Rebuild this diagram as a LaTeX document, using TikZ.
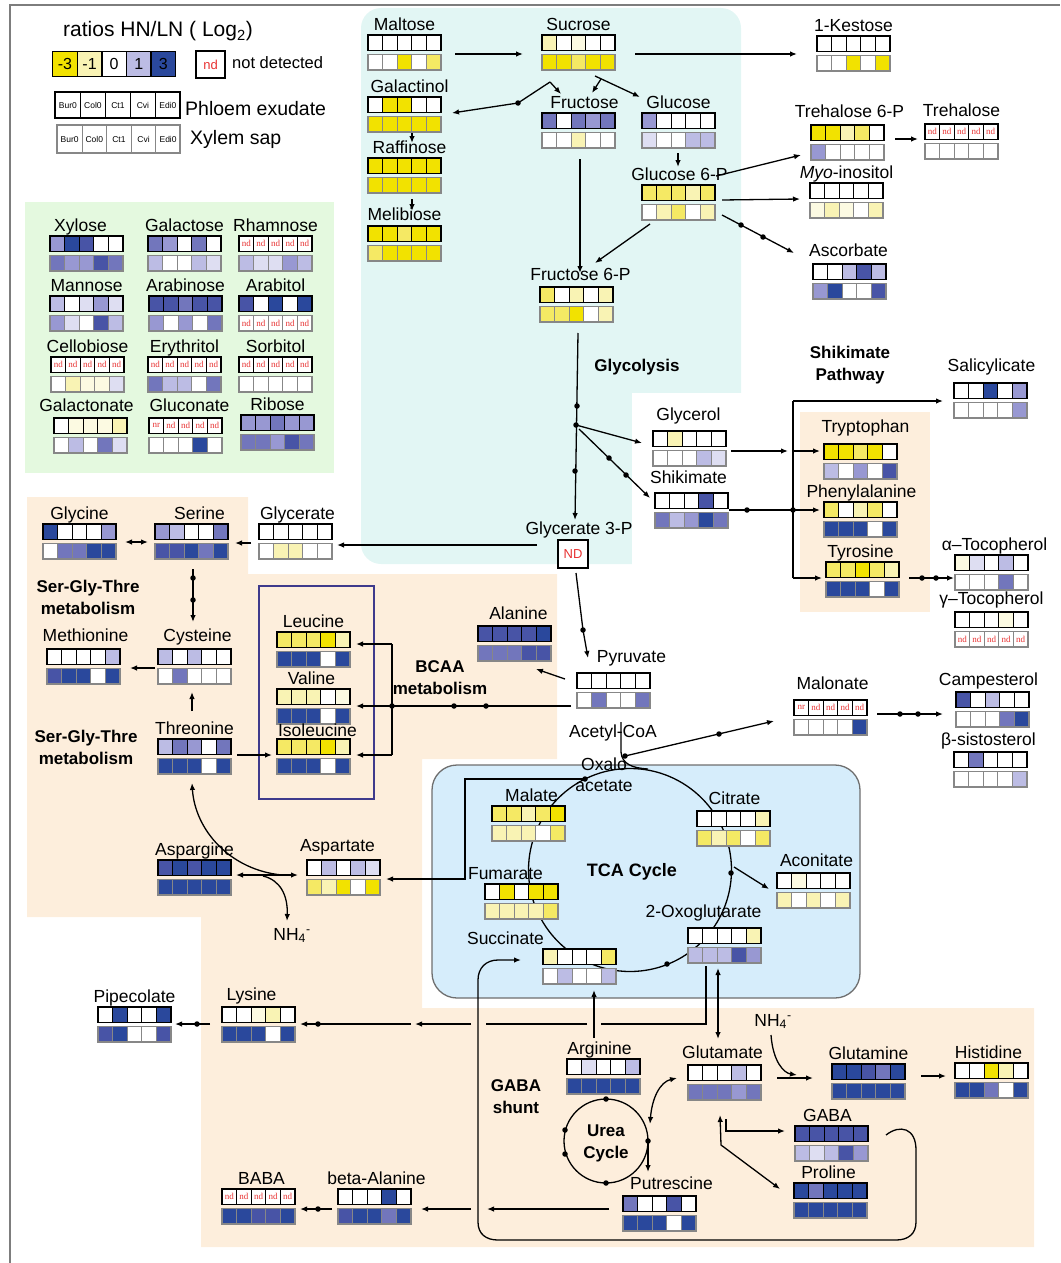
\documentclass[tikz,border=0pt]{standalone}
\usepackage{fontspec}
\setmainfont{Liberation Sans}
\newfontfamily\ndfont{Liberation Serif}
\usetikzlibrary{arrows.meta}
\definecolor{cY}{RGB}{242,226,0}
\definecolor{cy}{RGB}{245,233,100}
\definecolor{cl}{RGB}{249,243,180}
\definecolor{cp}{RGB}{252,250,226}
\definecolor{cW}{RGB}{255,255,255}
\definecolor{cN}{RGB}{255,255,255}
\definecolor{cR}{RGB}{255,255,255}
\definecolor{cb}{RGB}{222,222,242}
\definecolor{cc}{RGB}{188,188,228}
\definecolor{cm}{RGB}{152,152,210}
\definecolor{cM}{RGB}{114,118,188}
\definecolor{cD}{RGB}{72,84,166}
\definecolor{cK}{RGB}{42,72,156}
\definecolor{ndred}{RGB}{232,50,50}
\definecolor{bgcyan}{RGB}{226,246,244}
\definecolor{bggreen}{RGB}{228,249,223}
\definecolor{bgpeach}{RGB}{253,238,220}
\definecolor{bgtca}{RGB}{214,237,251}
\definecolor{tcaedge}{RGB}{110,110,110}
\definecolor{bcaaedge}{RGB}{62,58,140}
\definecolor{rowgray}{RGB}{135,135,135}
\definecolor{framegray}{RGB}{125,125,125}
\newcommand{\txtN}{{\ndfont\fontsize{9}{9}\selectfont\color{ndred}nd}}
\newcommand{\txtR}{{\ndfont\fontsize{9}{9}\selectfont\color{ndred}nr}}
\tikzset{
  cellt/.style={draw=black, line width=1.2pt, fill=c#1, minimum width=14.6pt, minimum height=15.5pt, inner sep=0pt, outer sep=0pt, anchor=north west},
  cellb/.style={cellt=#1, draw=rowgray},
  lbl/.style={font=\fontsize{17.5}{20}\selectfont, anchor=base, inner sep=0pt},
  title/.style={font=\bfseries\fontsize{17}{22}\selectfont, align=center, inner sep=0pt},
  conn/.style={line width=1.3pt, -{Latex[length=7pt,width=5.5pt]}},
  conn2/.style={line width=1.3pt, {Latex[length=7pt,width=5.5pt]}-{Latex[length=7pt,width=5.5pt]}},
  plain/.style={line width=1.3pt},
  dot/.style={circle, fill=black, inner sep=0pt, minimum size=5.5pt},
  legc/.style={draw=black, line width=1.3pt, fill=c#1, minimum width=24.6pt, minimum height=25pt, inner sep=0pt, anchor=north west, font=\fontsize{16}{16}\selectfont},
  legp/.style={draw=black, line width=0.8pt, minimum width=25pt, minimum height=26pt, inner sep=0pt, anchor=north west, font=\fontsize{8.5}{9}\selectfont},
  legx/.style={legp, draw=rowgray, minimum width=24.6pt, minimum height=28pt},
  legtext/.style={font=\fontsize{19.5}{22}\selectfont, anchor=base west, inner sep=0pt}
}
\NewDocumentCommand{\met}{O{0} O{0} m m m m m m}{%
  \node[lbl] (#3) at ({#4+36.5+(#1)},{#5-4.5+(#2)}) {#6};
  \foreach \c [count=\i from 0] in {#7}
    \node[cellt=\c] (#3-t\i) at ({#4+\i*14.6},{#5}) {\csname txt\c\endcsname};
  \foreach \c [count=\i from 0] in {#8}
    \node[cellb=\c] (#3-b\i) at ({#4+\i*14.6},{#5+19.5}) {\csname txt\c\endcsname};
}
\begin{document}
\begin{tikzpicture}[x=1pt,y=-1pt]
\useasboundingbox (0,0) rectangle (1060,1263);
% ---------- backgrounds
\fill[bgcyan, rounded corners=20pt] (361,8) rectangle (741,564);
\fill[white] (632,393) rectangle (745,570);
\fill[bggreen] (25,202) rectangle (334,473);
\fill[bgpeach] (27,497) -- (248,497) -- (248,574) -- (557,574) -- (557,759) -- (422,759) -- (422,1008) -- (1034,1008) -- (1034,1247) -- (201,1247) -- (201,917) -- (27,917) -- cycle;
\fill[bgpeach] (800,412) rectangle (930,612);
\draw[fill=bgtca, draw=tcaedge, line width=1.3pt, rounded corners=25pt] (432,765) rectangle (860,998);
\draw[draw=bcaaedge, line width=1.2pt] (259,586) rectangle (374,799);
\draw[framegray, line width=1.5pt] (10,1263) -- (10,5) -- (1060,5);
% ---------- legend
\node[font=\fontsize{21}{24}\selectfont, anchor=base west, inner sep=0pt] (legtitle) at (63,37) {ratios HN/LN ( Log\textsubscript{2})};
\foreach \c/\t [count=\i from 0] in {Y/-3,l/-1,W/0,c/1,K/3}
  \node[legc=\c] (leg\i) at ({52+\i*24.6},51) {\t};
\node[draw, line width=1.3pt, minimum width=29pt, minimum height=27pt, inner sep=0pt, text=ndred, font=\fontsize{13}{13}\selectfont] (ndbox) at (210.5,64.5) {nd};
\node[font=\fontsize{16.5}{18}\selectfont, anchor=base west, inner sep=0pt] (ndtext) at (232,69) {not detected};
\foreach \t [count=\i from 0] in {Bur0,Col0,Ct1,Cvi,Edi0}
  \node[legp] (lp\i) at ({55+\i*25},92) {\t};
\draw[line width=1.6pt] (55,92) rectangle (180,118);
\node[legtext] (phloem) at (185,115) {Phloem exudate};
\foreach \t [count=\i from 0] in {Bur0,Col0,Ct1,Cvi,Edi0}
  \node[legx] (lx\i) at ({57+\i*24.6},125) {\t};
\draw[rowgray, line width=1.6pt] (57,125) rectangle (180,153);
\node[legtext] (xylem) at (190,144) {Xylem sap};
% ---------- connectors: sugars
\draw[conn] (455,54) -- (523,54);
\draw[conn] (635,54) -- (797,54);
\draw[conn] (550,82) -- (561,94);
\draw[conn] (550,82) -- (518,103) -- (452,113);
\node[dot] (d1) at (518,103) {};
\draw[conn] (595,76) -- (640,97);
\draw[conn] (601,79) -- (592,93);
\draw[conn] (412,131) -- (412,143);
\draw[conn] (412,199) -- (412,211);
\draw[conn] (580,159) -- (580,273);
\draw[conn] (650,224) -- (595,263);
\draw[conn] (678,153) -- (678,167);
\draw[conn] (716,176) -- (801,155);
\draw[conn] (722,200) -- (800,199);
\draw[conn] (722,215) -- (794,253);
\node[dot] (d2) at (741,225) {};
\node[dot] (d3) at (763,237) {};
\draw[conn] (895,139) -- (918,139);
% glycolysis
\draw[conn] (578,333) -- (575,520);
\node[dot] (d4) at (577,406) {};
\node[dot] (d5) at (576,425) {};
\node[dot] (d6) at (575,471) {};
\draw[conn] (576,425) -- (642,443);
\draw[conn] (579,429) -- (650,498);
\node[dot] (d7) at (609,458) {};
\node[dot] (d8) at (626,475) {};
% shikimate
\draw[conn] (731,451) -- (788,451);
\draw[plain] (793,578) -- (793,401);
\draw[conn] (793,401) -- (943,401);
\draw[conn] (793,451) -- (820,451);
\draw[conn] (729,510) -- (820,510);
\node[dot] (d9) at (747,510) {};
\node[dot] (d10) at (793,510) {};
\draw[conn] (793,578) -- (822,578);
\draw[conn] (909,578) -- (954,578);
\node[dot] (d11) at (922,578) {};
\node[dot] (d12) at (936,578) {};
% Ser-Gly-Thre
\draw[conn] (537,545) -- (337,545);
\draw[conn] (251,543) -- (235,543);
\draw[conn2] (125,542) -- (148,542);
\draw[conn] (193,569) -- (193,622);
\node[dot] (d13) at (193,578) {};
\node[dot] (d14) at (193,600) {};
\draw[conn] (155,668) -- (130,668);
\draw[conn] (192,711) -- (192,692);
\draw[conn] (237,755) -- (272,755);
\draw[conn] (282,875) .. controls (230,870) and (195,830) .. (192,783);
\draw[conn2] (236,875) -- (298,875);
\draw[conn] (263,876) .. controls (280,880) and (288,895) .. (287,921);
% pyruvate / BCAA
\draw[plain] (576,573) -- (583,630);
\draw[conn] (583,630) -- (588,658);
\node[dot] (d15) at (583,630) {};
\draw[conn] (565,679) -- (536,669);
\draw[plain] (571,706) -- (392,706);
\node[dot] (d16) at (486,706) {};
\node[dot] (d17) at (454,706) {};
\node[dot] (d18) at (392,706) {};
\draw[plain] (392,644) -- (392,755);
\draw[conn] (392,644) -- (356,644);
\draw[conn] (392,706) -- (356,706);
\draw[conn] (392,755) -- (356,755);
% acetyl-CoA, malonate
\draw[plain] (621,722) -- (621,752) .. controls (622,764) and (632,768) .. (648,769);
\draw[conn] (625,756) -- (774,721);
\node[dot] (d19) at (625,756) {};
\node[dot] (d20) at (719,734) {};
\draw[conn] (877,714) -- (943,714);
\node[dot] (d21) at (900,714) {};
\node[dot] (d22) at (918,714) {};
% TCA cycle
\draw[plain] (630,870) circle [radius=101.5pt];
\node[dot] (d23) at (585,779) {};
\node[dot] (d24) at (731,873) {};
\node[dot] (d25) at (667,964) {};
\draw[conn] (585,779) -- (465,779) -- (465,879) -- (386,879);
\draw[conn] (734,867) -- (769,889);
% lower area
\draw[plain] (706,966) -- (706,1024) -- (601,1024);
\draw[plain] (587,1024) -- (486,1024);
\draw[conn] (471,1024) -- (415,1024);
\draw[conn] (411,1024) -- (300,1024);
\node[dot] (d26) at (318,1024) {};
\draw[conn] (210,1024) -- (175,1024);
\node[dot] (d27) at (197,1024) {};
\draw[conn2] (718,968) -- (718,1039);
\draw[conn] (594,1038) -- (594,990);
\draw[conn] (609,1209) -- (487,1209);
\draw[conn] (471,1209) -- (421,1209);
\draw[conn] (332,1209) -- (300,1209);
\node[dot] (d28) at (318,1209) {};
\draw[conn] (886,1135) .. controls (900,1124) and (916,1128) .. (916,1150) -- (916,1222) .. controls (916,1234) and (908,1240) .. (896,1240) -- (498,1240) .. controls (486,1240) and (478,1234) .. (478,1222) -- (478,980) .. controls (478,968) and (486,960) .. (498,960) -- (521,960);
% urea cycle
\draw[plain] (606,1141) circle [radius=42pt];
\node[dot] (d29) at (606,1099) {};
\node[dot] (d30) at (565,1130) {};
\node[dot] (d31) at (565,1154) {};
\node[dot] (d32) at (648,1141) {};
\node[dot] (d33) at (606,1183) {};
\draw[conn] (648,1141) -- (648,1172);
\draw[conn2] (650,1124) .. controls (652,1098) and (660,1082) .. (677,1078);
\draw[conn] (726,1119) -- (726,1131) -- (785,1131);
\draw[conn2] (720,1115) -- (721,1145) -- (780,1189);
\draw[conn] (777,1078) -- (813,1078);
\draw[conn] (771,1035) .. controls (773,1062) and (784,1073) .. (797,1075);
\draw[conn] (921,1076) -- (946,1076);
% ---------- metabolites
\met{maltose}{368}{35}{Maltose}{W,W,W,W,W}{W,W,Y,W,y}
\met{sucrose}{542}{35}{Sucrose}{l,W,p,W,W}{Y,Y,y,Y,Y}
\met{kestose}{817}{36}{1-Kestose}{W,W,W,W,W}{W,W,Y,W,Y}
\met[5]{galactinol}{368}{97}{Galactinol}{W,Y,Y,W,W}{Y,Y,Y,Y,Y}
\met[5]{raffinose}{368}{158}{Raffinose}{Y,Y,Y,Y,Y}{Y,Y,Y,Y,Y}
\met[0][-1]{melibiose}{368}{226}{Melibiose}{Y,Y,y,Y,Y}{y,Y,Y,Y,Y}
\met[6]{fructose}{542}{113}{Fructose}{M,W,M,m,M}{W,W,l,W,W}
\met{glucose}{642}{113}{Glucose}{m,W,W,W,W}{b,W,W,c,c}
\met[1]{glcsixp}{642}{185}{Glucose 6-P}{y,y,y,l,y}{W,l,y,W,l}
\met[4][-2]{frusixp}{540}{287}{Fructose 6-P}{y,W,l,W,l}{y,y,Y,W,l}
\met[2][-3]{tresixp}{811}{125}{Trehalose 6-P}{Y,Y,l,y,W}{m,W,W,W,W}
\met[0][-3]{trehalose}{925}{124}{Trehalose}{N,N,N,N,N}{W,W,W,W,W}
\met{myo}{810}{183}{\textit{Myo}-inositol}{W,W,W,W,W}{p,l,p,W,l}
\met[-1][-3]{ascorbate}{813}{264}{Ascorbate}{W,W,c,D,c}{m,K,W,W,D}
\met[-1][-6]{glycerol}{653}{431}{Glycerol}{W,l,W,W,W}{W,W,W,c,b}
\met[-3][-5]{shikimate}{655}{493}{Shikimate}{W,W,W,D,W}{M,c,m,K,M}
\met[1][-7]{salicylicate}{954}{383}{Salicylicate}{W,W,K,W,m}{W,W,W,W,m}
\met[5][-7]{tryptophan}{824}{444}{Tryptophan}{Y,Y,y,Y,W}{c,W,m,W,D}
\met[1]{phenylalanine}{824}{502}{Phenylalanine}{y,W,l,y,W}{K,K,K,W,K}
\met[-2]{tyrosine}{826}{562}{Tyrosine}{y,y,Y,y,l}{K,K,K,W,K}
\met[3]{atoco}{955}{555}{α–Tocopherol}{p,b,W,c,W}{W,W,W,M,W}
\met[0][-3]{gtoco}{955}{612}{γ–Tocopherol}{W,W,W,p,W}{N,N,N,N,N}
\met[-4][-2]{campesterol}{956}{692}{Campesterol}{D,W,c,W,W}{W,W,W,M,K}
\met[-2][-2]{sitosterol}{954}{752}{β-sistosterol}{W,M,W,W,W}{W,W,W,W,c}
\met[2][-6]{malonate}{794}{700}{Malonate}{R,N,N,N,N}{W,W,W,W,K}
\met[-6]{xylose}{50}{236}{Xylose}{m,K,D,W,W}{M,m,m,D,M}
\met{galactose}{148}{236}{Galactose}{M,m,W,M,W}{c,W,W,c,b}
\met{rhamnose}{239}{236}{Rhamnose}{N,N,N,N,N}{c,b,b,m,c}
\met{mannose}{50}{296}{Mannose}{c,W,b,m,b}{m,b,W,D,c}
\met{arabinose}{149}{296}{Arabinose}{D,D,M,D,D}{m,W,m,W,M}
\met{arabitol}{239}{296}{Arabitol}{D,W,K,W,K}{N,N,N,N,N}
\met{cellobiose}{51}{357}{Cellobiose}{N,N,N,N,N}{W,l,p,p,b}
\met{erythritol}{148}{357}{Erythritol}{N,N,N,N,N}{M,c,c,W,M}
\met{sorbitol}{239}{357}{Sorbitol}{N,N,N,N,N}{W,W,W,W,W}
\met[-4][-2]{galactonate}{54}{418}{Galactonate}{W,p,p,p,l}{W,c,W,M,b}
\met[4][-2]{gluconate}{149}{418}{Gluconate}{R,N,N,N,N}{W,W,W,K,W}
\met{ribose}{241}{415}{Ribose}{m,m,M,m,m}{M,M,m,D,M}
\met{glycine}{43}{524}{Glycine}{K,W,W,W,m}{W,M,M,K,K}
\met[8]{serine}{155}{524}{Serine}{m,c,W,W,M}{D,D,K,M,K}
\met[2]{glycerate}{259}{524}{Glycerate}{W,W,W,W,W}{W,l,l,W,W}
\met[2][-3]{methionine}{47}{649}{Methionine}{W,W,W,W,c}{D,K,K,W,K}
\met[3][-3]{cysteine}{158}{649}{Cysteine}{c,W,c,W,W}{W,M,W,W,W}
\met{threonine}{158}{739}{Threonine}{c,M,m,W,M}{K,K,K,W,K}
\met{leucine}{277}{632}{Leucine}{y,y,y,Y,l}{K,K,K,W,K}
\met[-2]{valine}{277}{689}{Valine}{l,l,l,W,p}{K,K,K,W,K}
\met[4][2]{isoleucine}{277}{739}{Isoleucine}{y,y,y,Y,l}{K,K,K,W,K}
\met{aspargine}{158}{860}{Aspargine}{D,K,D,K,K}{K,K,K,K,K}
\met[-6][-4]{aspartate}{307}{860}{Aspartate}{W,c,W,c,b}{y,l,Y,W,Y}
\met[4][-2]{alanine}{478}{626}{Alanine}{D,D,D,D,K}{M,M,M,D,D}
\met[18][-6]{pyruvate}{577}{673}{Pyruvate}{W,W,W,W,W}{W,M,W,W,M}
\met[3]{malate}{492}{806}{Malate}{y,y,l,y,Y}{l,l,l,W,y}
\met[1][-2]{citrate}{697}{811}{Citrate}{W,W,W,W,l}{y,l,y,W,y}
\met[3][-2]{aconitate}{777}{873}{Aconitate}{W,p,W,W,W}{l,W,l,W,l}
\met[-16]{fumarate}{485}{884}{Fumarate}{W,Y,W,Y,Y}{l,l,l,l,y}
\met[-21][-6]{oxoglutarate}{688}{928}{2-Oxoglutarate}{W,W,W,W,l}{c,c,c,D,m}
\met[-74]{succinate}{543}{949}{Succinate}{l,W,W,W,y}{W,c,W,W,c}
\met{pipecolate}{98}{1007}{Pipecolate}{W,K,W,W,K}{D,K,W,W,D}
\met[-7][-2]{lysine}{222}{1007}{Lysine}{W,W,p,l,W}{K,K,K,W,K}
\met[3]{baba}{222}{1189}{BABA}{N,N,N,N,N}{K,K,D,D,K}
\met[2]{betaala}{338}{1189}{beta-Alanine}{W,W,W,K,W}{D,K,K,M,K}
\met[-4]{arginine}{567}{1059}{Arginine}{W,b,W,W,c}{K,K,K,K,K}
\met[12][-2]{putrescine}{623}{1196}{Putrescine}{M,W,W,D,W}{K,K,K,W,K}
\met[-2][-2]{glutamate}{688}{1065}{Glutamate}{W,W,W,c,W}{M,M,M,m,M}
\met{glutamine}{832}{1064}{Glutamine}{K,K,D,M,K}{K,K,K,K,K}
\met[-3]{histidine}{955}{1063}{Histidine}{W,W,Y,l,W}{K,K,M,W,K}
\met[-4]{gaba}{795}{1126}{GABA}{D,D,D,D,D}{c,b,c,D,m}
\met[-2]{proline}{794}{1183}{Proline}{K,M,K,K,K}{K,K,K,K,K}
% glycerate 3-P
\node[lbl] (gthreep) at (579,534) {Glycerate 3-P};
\node[draw, fill=white, line width=1.3pt, minimum width=30pt, minimum height=28pt, inner sep=0pt, text=ndred, font=\fontsize{13}{13}\selectfont] (gthreepbox) at (573,554) {ND};
% ---------- free texts
\node[lbl] (acetyl) at (613,737) {Acetyl-CoA};
\node[lbl] (oxalo) at (604,770) {Oxalo};
\node[lbl] (acetate) at (604,791) {acetate};
\node[lbl] (nhA) at (292,940) {NH\textsubscript{4}\textsuperscript{-}};
\node[lbl] (nhB) at (773,1026) {NH\textsubscript{4}\textsuperscript{-}};
\node[title] (glycolysis) at (637,367) {Glycolysis};
\node[title] (shikpath) at (850,365) {Shikimate\\Pathway};
\node[title] (sgtA) at (88,597) {Ser-Gly-Thre\\metabolism};
\node[title] (sgtB) at (86,747) {Ser-Gly-Thre\\metabolism};
\node[title] (bcaa) at (440,678) {BCAA\\metabolism};
\node[title, font=\bfseries\fontsize{18}{22}\selectfont] (tca) at (632,872) {TCA Cycle};
\node[title] (gabashunt) at (516,1097) {GABA\\shunt};
\node[title] (urea) at (606,1143) {Urea\\Cycle};
\end{tikzpicture}
\end{document}
